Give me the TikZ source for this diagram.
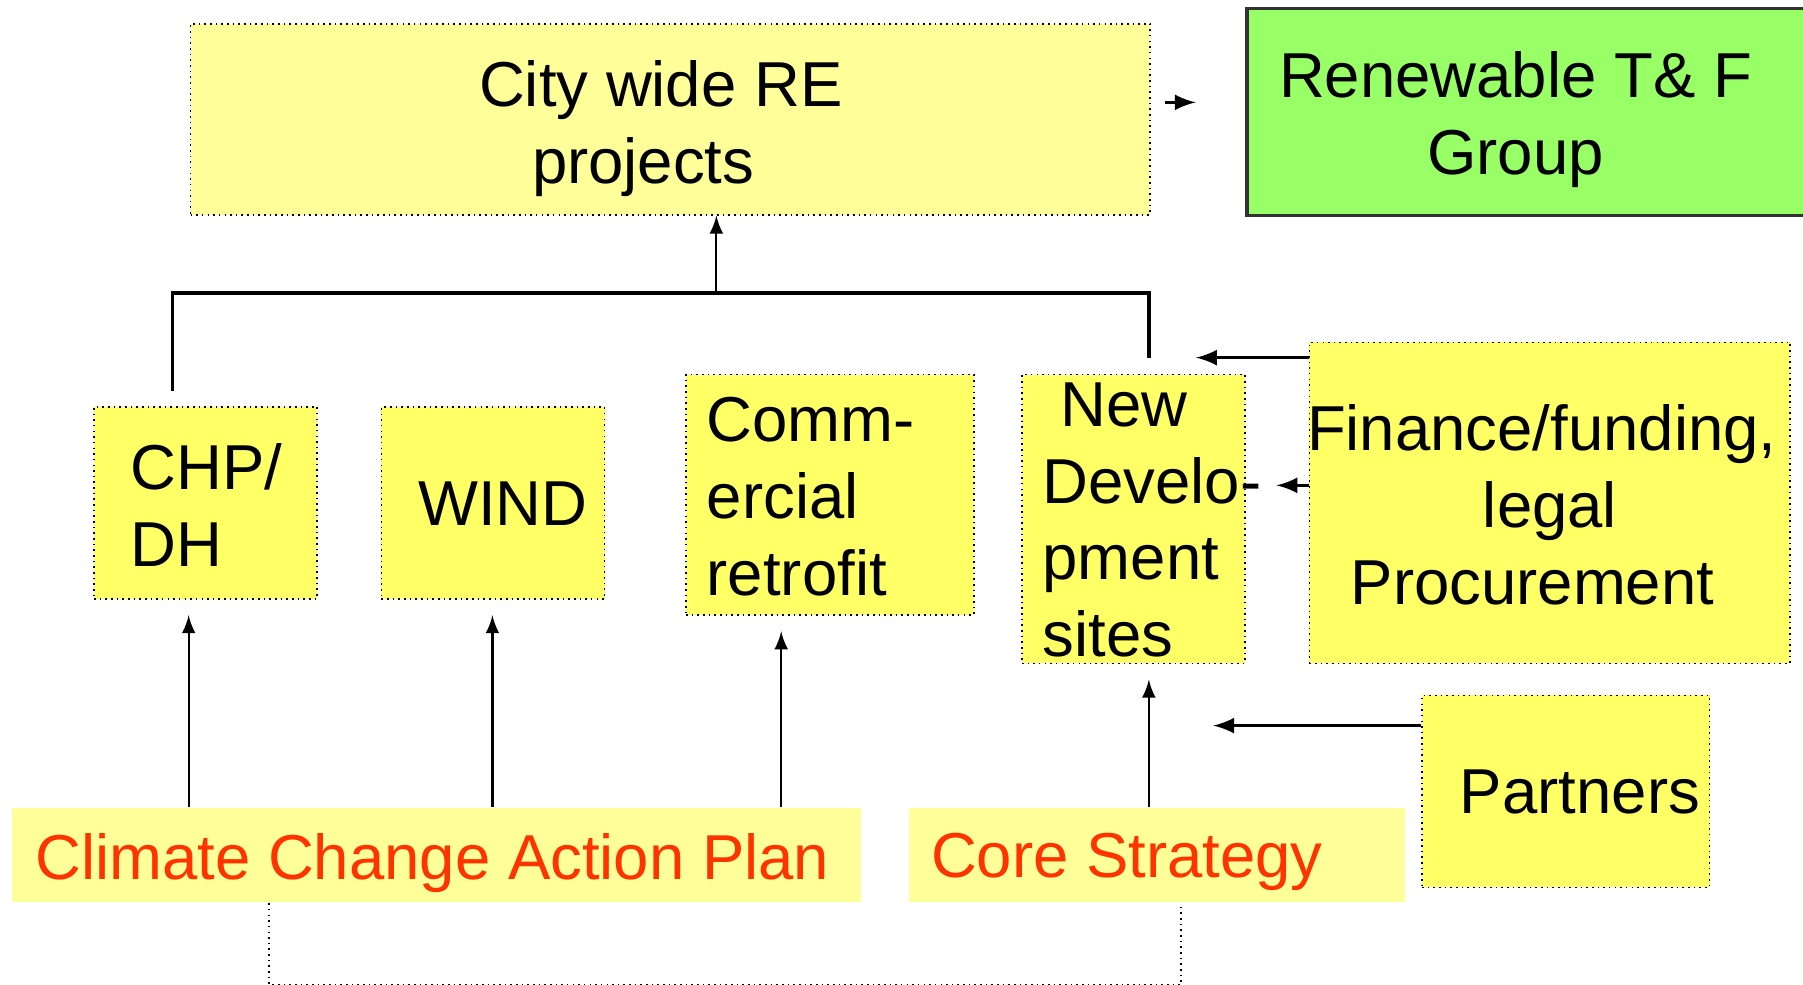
\documentclass[tikz,border=0pt]{standalone}
\usepackage{fontspec}
\setmainfont{Liberation Sans}
\definecolor{paleyel}{HTML}{FFFF99}
\definecolor{boxyel}{HTML}{FFFF66}
\definecolor{grpgreen}{HTML}{99FF66}
\definecolor{planred}{HTML}{FF3300}

\begin{document}
\begin{tikzpicture}[x=0.01cm, y=-0.01cm,
    box/.style={draw, densely dotted, line width=0.4pt, fill=boxyel, anchor=north west, inner sep=0pt},
    plan/.style={fill=paleyel, anchor=north west, inner sep=0pt, minimum height=0.82cm},
    txt/.style={inner sep=0pt, font=\fontsize{15.7}{19}\selectfont},
    arr/.style={-latex, line width=0.55pt},
    thickarr/.style={-latex, line width=0.8pt}]
    \useasboundingbox (0,0) rectangle (1568,856);
    \clip (0,0) rectangle (1568,856);
    % boxes
    \node[box, fill=paleyel, minimum width=8.34cm, minimum height=1.66cm] (city) at (165,20) {};
    \node[draw=black!80, line width=0.8pt, fill=grpgreen, anchor=north west, inner sep=0pt,
          minimum width=5.1cm, minimum height=1.8cm] (group) at (1083,6) {};
    \node[box, minimum width=1.94cm, minimum height=1.67cm] (chp) at (81,353) {};
    \node[box, minimum width=1.94cm, minimum height=1.67cm] (wind) at (331,353) {};
    \node[box, minimum width=2.50cm, minimum height=2.09cm] (comm) at (596,325) {};
    \node[box, minimum width=1.94cm, minimum height=2.51cm] (newdev) at (888,325) {};
    \node[box, minimum width=4.18cm, minimum height=2.79cm] (finance) at (1138,297) {};
    \node[box, minimum width=2.50cm, minimum height=1.67cm] (partners) at (1236,604) {};
    \node[plan, minimum width=7.38cm] (ccap) at (10,702) {};
    \node[plan, minimum width=4.31cm] (core) at (790,702) {};
    % texts
    \node[txt, anchor=north west, align=left] (citytxt) at (416,52) {City wide RE\\\hspace*{13.1pt}projects};
    \node[txt, anchor=north, align=center] (grouptxt) at (1318,44) {Renewable T\& F\\Group};
    \node[txt, anchor=north west, align=left] (chptxt) at (113,385) {CHP/\\DH};
    \node[txt, anchor=north west] (windtxt) at (363,418) {WIND};
    \node[txt, anchor=north west, align=left] (commtxt) at (614,345) {Comm-\\ercial\\retrofit};
    \node[txt, anchor=north west, align=left] (newtxt) at (906,332) {\hspace*{0.28em}New\\Develo-\\pment\\sites};
    \node[txt, anchor=north west, align=left] (fintxt) at (1136,351) {Finance/funding,\\\hspace*{43.5pt}legal\\\hspace*{10.8pt}Procurement};
    \node[txt, anchor=north west] (partxt) at (1269,669) {Partners};
    \node[txt, anchor=north west, text=planred] (ccaptxt) at (30,724) {Climate Change Action Plan};
    \node[txt, anchor=north west, text=planred] (coretxt) at (809,724) {Core Strategy};
    % top bracket
    \coordinate (hubL) at (150,340);
    \coordinate (hubR) at (999,311);
    \coordinate (hub) at (623,255);
    \draw[line width=0.9pt] (hubL) |- (hub) -| (hubR);
    \draw[arr] (hub) -- (hub |- city.south);
    \coordinate (stub) at (1013,89);
    \draw[thickarr] (stub) -- ++(27,0);
    % side arrows
    \draw[thickarr] ([yshift=-0.14cm]finance.north west) -- ++(-98,0);
    \draw[thickarr] ([yshift=-1.25cm]finance.north west) -- ++(-28,0);
    \draw[thickarr] ([yshift=-0.27cm]partners.north west) -- ++(-181,0);
    % up arrows
    \draw[arr] ([xshift=1.54cm]ccap.north west) -- ++(0,-167);
    \draw[arr] ([xshift=4.18cm]ccap.north west) -- ++(0,-167);
    \draw[arr] ([xshift=6.69cm]ccap.north west) -- ++(0,-153);
    \draw[arr] ([xshift=2.09cm]core.north west) -- ++(0,-111);
    % bottom bracket
    \draw[densely dotted, line width=0.4pt] ([xshift=2.24cm]ccap.south west) -- ++(0,71) -| ([xshift=2.37cm]core.south west);
\end{tikzpicture}
\end{document}
